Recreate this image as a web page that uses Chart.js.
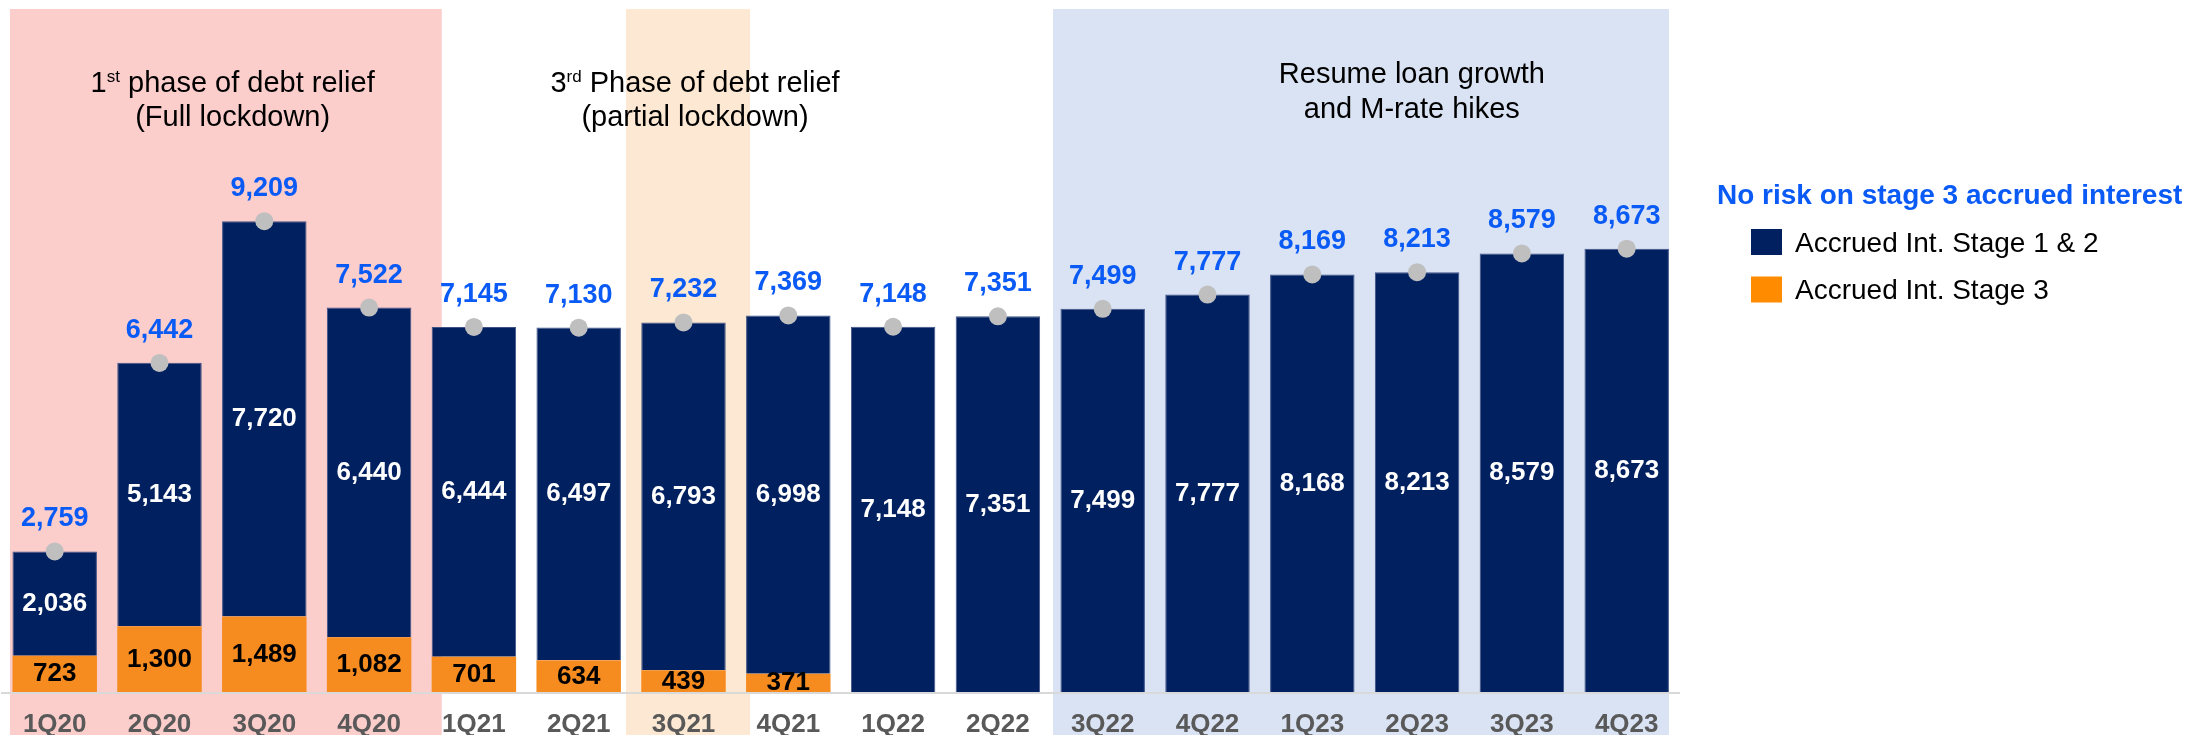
<!DOCTYPE html>
<html>
<head>
<meta charset="utf-8">
<script src="https://cdn.jsdelivr.net/npm/chart.js@4.4.1/dist/chart.umd.min.js"></script>
<style>
  html, body { margin: 0; padding: 0; background: #fff; overflow: hidden; }
  #wrap { width: 2190px; height: 735px; position: relative; }
</style>
</head>
<body>
<div id="wrap"><canvas id="accruedChart"></canvas></div>
<script>
// quarters on the x axis
var quarters = ['1Q20', '2Q20', '3Q20', '4Q20', '1Q21', '2Q21', '3Q21', '4Q21',
                '1Q22', '2Q22', '3Q22', '4Q22', '1Q23', '2Q23', '3Q23', '4Q23'];

// accrued interest stage 1 & 2 (navy part of each bar)
var stage12 = [2036, 5143, 7720, 6440, 6444, 6497, 6793, 6998,
               7148, 7351, 7499, 7777, 8168, 8213, 8579, 8673];

// accrued interest stage 3 (orange part, none from 1Q22 on)
var stage3 = [723, 1300, 1489, 1082, 701, 634, 439, 371,
              null, null, null, null, null, null, null, null];

// reported total per quarter (grey dot + blue figure)
var totals = [2759, 6442, 9209, 7522, 7145, 7130, 7232, 7369,
              7148, 7351, 7499, 7777, 8169, 8213, 8579, 8673];

var FONT = "'Liberation Sans', Arial, sans-serif";
var BLUE = '#0A5AF5';

// shaded periods behind the bars, in category units of the x scale
// a '^' in front of a text part means superscript
var phases = [
    { from: -0.427, to: 3.693, fill: '#FBCDCB', center: 1.698, baselines: [91.5, 126],
      lines: [['1', '^st', ' phase of debt relief'], ['(Full lockdown)']] },
    { from: 5.451, to: 6.635, fill: '#FDE9D3', center: 6.11, baselines: [91.5, 126],
      lines: [['3', '^rd', ' Phase of debt relief'], ['(partial lockdown)']] },
    { from: 9.526, to: 15.403, fill: '#DAE3F3', center: 12.95, baselines: [83, 118],
      lines: [['Resume loan growth'], ['and M-rate hikes']] }
];

function fmt(v) {
    return v.toLocaleString('en-US');
}

function drawRichLine(ctx, parts, cx, baseline) {
    var pieces = parts.map(function (p) {
        var sup = p.charAt(0) === '^';
        var txt = sup ? p.slice(1) : p;
        ctx.font = (sup ? 17 : 29) + 'px ' + FONT;
        return { txt: txt, sup: sup, w: ctx.measureText(txt).width };
    });
    var total = pieces.reduce(function (s, p) { return s + p.w; }, 0);
    var x = cx - total / 2;
    pieces.forEach(function (p) {
        ctx.font = (p.sup ? 17 : 29) + 'px ' + FONT;
        ctx.fillText(p.txt, x, p.sup ? baseline - 10 : baseline);
        x += p.w;
    });
}

// background bands + their captions
var phaseBands = {
    id: 'phaseBands',
    beforeDraw: function (chart) {
        var ctx = chart.ctx, xs = chart.scales.x;
        ctx.save();
        phases.forEach(function (p) {
            var x0 = xs.getPixelForValue(p.from);
            var x1 = xs.getPixelForValue(p.to);
            ctx.fillStyle = p.fill;
            ctx.fillRect(x0, 9, x1 - x0, chart.height - 9);
        });
        ctx.fillStyle = '#000';
        ctx.textAlign = 'left';
        ctx.textBaseline = 'alphabetic';
        phases.forEach(function (p) {
            var cx = xs.getPixelForValue(p.center);
            p.lines.forEach(function (line, i) {
                drawRichLine(ctx, line, cx, p.baselines[i]);
            });
        });
        ctx.restore();
    }
};

// figures inside the segments and above the dots
var barLabels = {
    id: 'barLabels',
    afterDatasetsDraw: function (chart) {
        var ctx = chart.ctx;
        ctx.save();
        ctx.textAlign = 'center';
        chart.data.datasets.forEach(function (ds, di) {
            var meta = chart.getDatasetMeta(di);
            meta.data.forEach(function (el, i) {
                var v = ds.data[i];
                if (v === null || v === undefined) return;
                if (ds.type === 'line') {
                    ctx.font = 'bold 27px ' + FONT;
                    ctx.fillStyle = BLUE;
                    ctx.textBaseline = 'alphabetic';
                    ctx.fillText(fmt(v), el.x, el.y - 25);
                } else {
                    ctx.font = 'bold 26px ' + FONT;
                    ctx.fillStyle = ds.labelColor;
                    ctx.textBaseline = 'middle';
                    ctx.fillText(fmt(v), el.x, (el.y + el.base) / 2);
                }
            });
        });
        ctx.restore();
    }
};

// legend on the right with its heading
var sideLegend = {
    id: 'sideLegend',
    afterDraw: function (chart) {
        var ctx = chart.ctx;
        var bars = chart.data.datasets.filter(function (d) { return d.type !== 'line'; }).reverse();
        ctx.save();
        ctx.textAlign = 'left';
        ctx.textBaseline = 'alphabetic';
        ctx.font = 'bold 28px ' + FONT;
        ctx.fillStyle = BLUE;
        ctx.fillText('No risk on stage 3 accrued interest', 1717, 204);
        bars.forEach(function (d, i) {
            var top = 229 + i * 47.5;
            ctx.fillStyle = d.legendColor || d.backgroundColor;
            ctx.fillRect(1751, top, 31, 26);
            ctx.fillStyle = '#000';
            ctx.font = '28px ' + FONT;
            ctx.fillText(d.label, 1795, top + 22.5);
        });
        ctx.restore();
    }
};

Chart.defaults.font.family = FONT;

var ctx = document.getElementById('accruedChart');

var myChart = new Chart(ctx, {
    type: 'bar',
    data: {
        labels: quarters,
        datasets: [{
            type: 'line',
            label: 'Total',
            data: totals,
            showLine: false,
            pointRadius: 9,
            pointHoverRadius: 9,
            pointBackgroundColor: '#BFBFBF',
            pointBorderWidth: 0,
            stack: 'dots',
            order: 0
        }, {
            label: 'Accrued Int. Stage 3',
            data: stage3,
            backgroundColor: '#F68B1F',
            legendColor: '#FF8C00',
            labelColor: '#000',
            stack: 'accrued',
            order: 1
        }, {
            label: 'Accrued Int. Stage 1 & 2',
            data: stage12,
            backgroundColor: '#002060',
            borderColor: '#3F5286',
            borderWidth: 1,
            labelColor: '#fff',
            stack: 'accrued',
            order: 1
        }]
    },
    options: {
        responsive: true,
        maintainAspectRatio: false,
        animation: false,
        events: [],
        layout: {
            autoPadding: false,
            padding: { left: 2.3, right: 510.9, top: 0, bottom: 0 }
        },
        datasets: {
            bar: { barPercentage: 0.806, categoryPercentage: 1.0 }
        },
        plugins: {
            legend: { display: false },
            tooltip: { enabled: false }
        },
        scales: {
            x: {
                stacked: true,
                grid: { display: false, drawTicks: false },
                border: { display: true, color: '#D9D9D9', width: 2, z: 1 },
                ticks: {
                    color: '#595959',
                    font: { size: 26, weight: 'bold' },
                    padding: 17,
                    maxRotation: 0,
                    autoSkip: false
                },
                afterFit: function (scale) {
                    scale.height = 42.3;
                    scale.paddingLeft = 0;
                    scale.paddingRight = 0;
                }
            },
            y: {
                display: false,
                stacked: true,
                min: 0,
                max: 13530
            }
        }
    },
    plugins: [phaseBands, barLabels, sideLegend]
});
</script>
</body>
</html>
